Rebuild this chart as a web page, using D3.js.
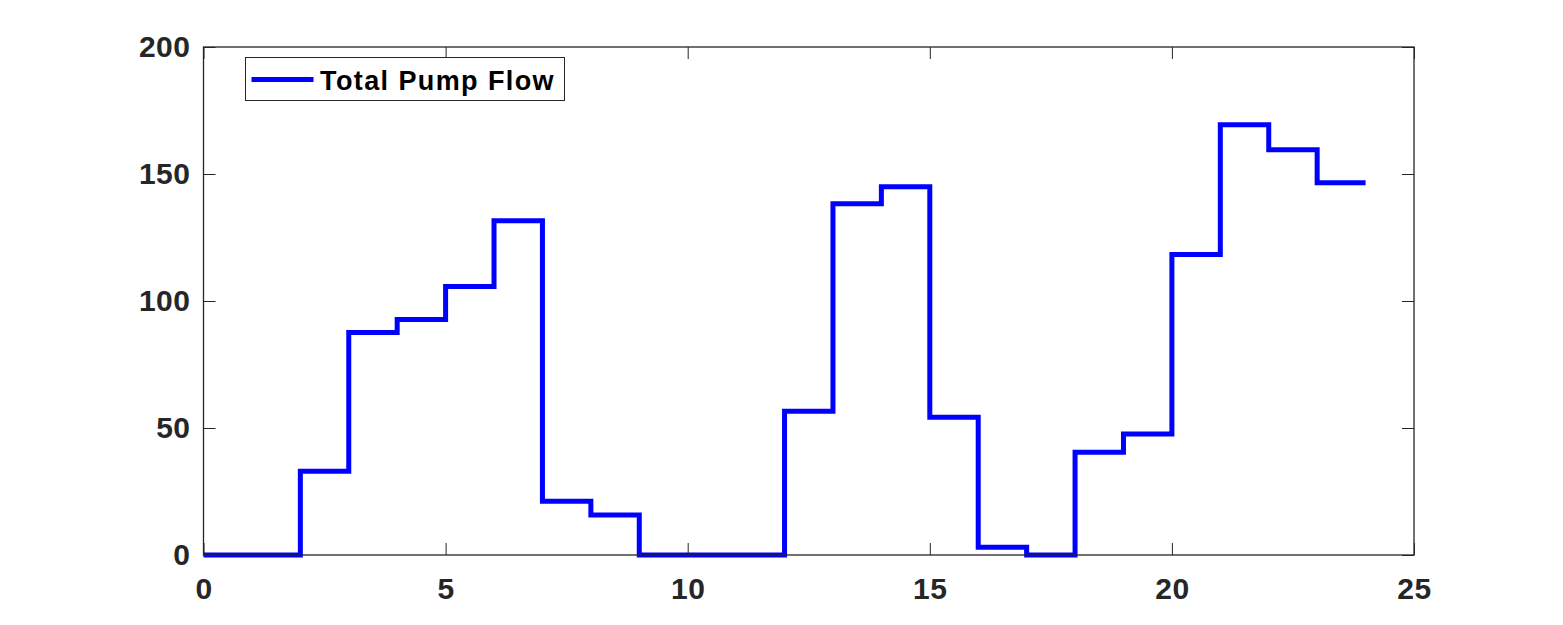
<!DOCTYPE html>
<html>
<head>
<meta charset="utf-8">
<script src="https://cdn.jsdelivr.net/npm/d3@7"></script>
<style>
  html, body { margin: 0; padding: 0; background: #fff; }
  svg { display: block; }
</style>
</head>
<body>
<svg id="chart" width="1563" height="625"></svg>
<script>
// hourly step values (value holds from hour i to hour i+1)
const hours = d3.range(0, 25);
const flow = [0, 0, 33, 87.6, 92.7, 105.7, 131.6, 21.2, 15.7, 0, 0, 0, 56.6, 138.3, 145, 54.2, 3.1, 0, 40.5, 47.6, 118.3, 169.4, 159.5, 146.6, 146.6];
const xTicks = [0, 5, 10, 15, 20, 25];
const yTicks = [0, 50, 100, 150, 200];
const seriesName = 'Total Pump Flow';

const svg = d3.select('#chart');
const MARGIN = { left: 203.5, right: 1414, top: 47, bottom: 555 };
const axisColor = '#262626';
const font = '"Liberation Sans", Arial, Helvetica, sans-serif';

const x = d3.scaleLinear().domain([0, 25]).range([MARGIN.left, MARGIN.right]);
const y = d3.scaleLinear().domain([0, 200]).range([MARGIN.bottom, MARGIN.top]);

const data = hours.map((h, i) => ({ h, v: flow[i] }));

const line = d3.line()
    .x(d => x(d.h))
    .y(d => y(d.v))
    .curve(d3.curveStepAfter);

svg.append('path')
    .datum(data)
    .attr('d', line)
    .attr('fill', 'none')
    .attr('stroke', '#0000ff')
    .attr('stroke-width', 5)
    .attr('stroke-linejoin', 'miter');

const TICK = 12;

// bottom axis with labels, ticks inward
svg.append('g')
    .attr('transform', `translate(0,${MARGIN.bottom})`)
    .call(d3.axisBottom(x).tickValues(xTicks).tickSizeInner(-TICK).tickSizeOuter(0).tickPadding(23))
    .call(g => g.select('.domain').remove());

// top ticks
svg.append('g')
    .attr('transform', `translate(0,${MARGIN.top})`)
    .call(d3.axisTop(x).tickValues(xTicks).tickSizeInner(-TICK).tickSizeOuter(0).tickFormat(''))
    .call(g => g.select('.domain').remove());

// left axis with labels
svg.append('g')
    .attr('transform', `translate(${MARGIN.left},0)`)
    .call(d3.axisLeft(y).tickValues(yTicks).tickSizeInner(-TICK).tickSizeOuter(0).tickPadding(13))
    .call(g => g.select('.domain').remove());

// right ticks
svg.append('g')
    .attr('transform', `translate(${MARGIN.right},0)`)
    .call(d3.axisRight(y).tickValues(yTicks).tickSizeInner(-TICK).tickSizeOuter(0).tickFormat(''))
    .call(g => g.select('.domain').remove());

svg.selectAll('.tick line')
    .attr('stroke', axisColor)
    .attr('stroke-width', 1);

svg.selectAll('.tick text')
    .attr('fill', axisColor)
    .style('font-family', font)
    .style('font-size', '30px')
    .style('font-weight', 'bold')
    .style('letter-spacing', '0.5px');

// axes box
svg.append('rect')
    .attr('x', MARGIN.left)
    .attr('y', MARGIN.top)
    .attr('width', MARGIN.right - MARGIN.left)
    .attr('height', MARGIN.bottom - MARGIN.top)
    .attr('fill', 'none')
    .attr('stroke', axisColor)
    .attr('stroke-width', 1.3);

// legend
const legend = svg.append('g').attr('transform', 'translate(245.5,57.5)');
legend.append('rect')
    .attr('width', 319)
    .attr('height', 43)
    .attr('fill', '#fff')
    .attr('stroke', axisColor)
    .attr('stroke-width', 1);
legend.append('line')
    .attr('x1', 6).attr('x2', 68)
    .attr('y1', 22).attr('y2', 22)
    .attr('stroke', '#0000ff')
    .attr('stroke-width', 5);
legend.append('text')
    .attr('x', 74.5)
    .attr('y', 32.5)
    .attr('fill', '#000')
    .style('font-family', font)
    .style('font-size', '27px')
    .style('font-weight', 'bold')
    .style('letter-spacing', '1.4px')
    .text(seriesName);
</script>
</body>
</html>
